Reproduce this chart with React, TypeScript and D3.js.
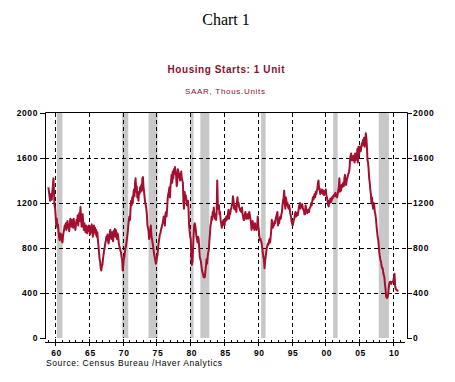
import React from "react";
import * as d3 from "d3";

const startYear = 1959;
// Monthly single-family housing starts, SAAR, thousands (Jan 1959 onward)
const starts: number[] = [
  1340, 1300, 1260, 1220, 1250, 1280, 1230, 1300, 1350, 1420, 1300, 1180,
  1150, 1080, 1000, 1060, 980, 1010, 950, 900, 870, 930, 880, 920,
  860, 850, 900, 940, 960, 1000, 980, 1020, 960, 1000, 1040, 980,
  1000, 950, 1010, 1060, 1020, 990, 1050, 1030, 980, 1060, 1010, 1000,
  960, 1010, 1050, 1020, 1090, 1000, 1060, 1110, 1040, 1165, 1080, 990,
  1050, 1100, 1000, 960, 1020, 980, 940, 1000, 960, 930, 990, 950,
  1000, 960, 920, 990, 940, 1010, 970, 900, 960, 1000, 940, 980,
  920, 960, 900, 940, 870, 820, 760, 700, 680, 620, 600, 640,
  650, 700, 740, 780, 800, 840, 860, 900, 880, 920, 860, 840,
  880, 930, 960, 900, 880, 940, 910, 860, 950, 920, 970, 900,
  960, 920, 880, 930, 900, 850, 820, 800, 780, 760, 720, 700,
  600, 640, 700, 720, 760, 800, 820, 860, 900, 940, 1000, 1050,
  1080, 1050, 1150, 1220, 1180, 1250, 1200, 1280, 1320, 1260, 1380, 1420,
  1300, 1350, 1250, 1280, 1220, 1300, 1280, 1340, 1300, 1360, 1310, 1420,
  1430, 1350, 1300, 1250, 1200, 1180, 1150, 1100, 1000, 980, 950, 880,
  900, 950, 1000, 920, 880, 850, 820, 780, 740, 720, 690, 660,
  680, 720, 740, 800, 850, 880, 920, 930, 960, 980, 1000, 1020,
  1050, 1080, 1040, 1000, 1100, 1120, 1080, 1150, 1240, 1280, 1300, 1340,
  1250, 1350, 1400, 1450, 1380, 1480, 1420, 1500, 1460, 1520, 1480, 1440,
  1350, 1380, 1500, 1480, 1430, 1460, 1400, 1440, 1480, 1420, 1400, 1380,
  1200, 1150, 1300, 1250, 1270, 1240, 1180, 1200, 1220, 1150, 1000, 950,
  900, 880, 720, 650, 680, 780, 900, 1000, 1020, 1000, 960, 900,
  880, 850, 900, 880, 800, 720, 700, 680, 640, 600, 580, 560,
  540, 560, 540, 600, 640, 700, 660, 720, 760, 780, 860, 920,
  1000, 1020, 1080, 1050, 1120, 1100, 1160, 1080, 1060, 1100, 1050, 1120,
  1400, 1200, 1150, 1180, 1100, 1120, 1050, 1020, 980, 1000, 1030, 1050,
  1020, 1000, 1060, 1040, 1080, 1050, 1080, 1100, 1140, 1060, 1120, 1100,
  1140, 1150, 1180, 1200, 1260, 1220, 1150, 1180, 1140, 1160, 1120, 1200,
  1250, 1180, 1200, 1160, 1150, 1130, 1150, 1120, 1160, 1100, 1080, 1050,
  1050, 1100, 1120, 1080, 1060, 1100, 1080, 1060, 1100, 1120, 1090, 1060,
  1020, 960, 1000, 1040, 980, 1000, 960, 1020, 990, 980, 960, 1000,
  1080, 1000, 960, 900, 870, 880, 860, 840, 800, 760, 720, 700,
  620, 680, 720, 760, 800, 820, 840, 830, 860, 880, 850, 900,
  960, 1050, 1000, 980, 1020, 1000, 1040, 1020, 1060, 1080, 1100, 1120,
  1000, 1040, 1020, 1060, 1080, 1060, 1100, 1120, 1180, 1220, 1250, 1310,
  1200, 1150, 1250, 1220, 1180, 1200, 1160, 1150, 1180, 1140, 1100, 1080,
  1040, 1020, 1000, 1020, 1050, 1060, 1100, 1120, 1080, 1110, 1100, 1090,
  1120, 1160, 1180, 1200, 1150, 1180, 1170, 1190, 1160, 1140, 1130, 1100,
  1100, 1180, 1150, 1120, 1110, 1130, 1140, 1120, 1150, 1160, 1170, 1200,
  1180, 1220, 1250, 1230, 1260, 1280, 1250, 1300, 1280, 1310, 1330, 1380,
  1400, 1320, 1330, 1280, 1300, 1290, 1320, 1300, 1280, 1310, 1270, 1300,
  1290, 1320, 1270, 1250, 1220, 1180, 1170, 1220, 1200, 1240, 1220, 1210,
  1250, 1240, 1260, 1270, 1260, 1280, 1290, 1260, 1270, 1250, 1280, 1310,
  1340, 1420, 1300, 1320, 1310, 1360, 1340, 1370, 1380, 1350, 1420, 1450,
  1380, 1360, 1400, 1420, 1440, 1460, 1470, 1500, 1580, 1620, 1640, 1580,
  1600, 1580, 1620, 1600, 1560, 1640, 1580, 1640, 1600, 1680, 1560, 1700,
  1620, 1700, 1680, 1660, 1700, 1730, 1710, 1760, 1720, 1780, 1700, 1740,
  1820, 1780, 1700, 1580, 1560, 1500, 1420, 1380, 1320, 1280, 1200, 1250,
  1180, 1150, 1200, 1180, 1120, 1100, 1060, 1000, 950, 900, 880, 820,
  760, 720, 690, 680, 640, 620, 620, 580, 560, 540, 480, 440,
  370, 360, 355, 370, 400, 460, 490, 500, 500, 480, 490, 500,
  500, 510, 540, 570, 470, 440, 430, 430, 420, 430,
];

const recessionStarts = [1960.25, 1969.92, 1973.83, 1980.0, 1981.5, 1990.5, 2001.17, 2007.92];
const recessionEnds = [1961.08, 1970.83, 1975.17, 1980.5, 1982.83, 1991.17, 2001.83, 2009.42];

const yTicks = [0, 400, 800, 1200, 1600, 2000];
const xMajorYears = [1960, 1965, 1970, 1975, 1980, 1985, 1990, 1995, 2000, 2005, 2010];
const xTickLabels = ["60", "65", "70", "75", "80", "85", "90", "95", "00", "05", "10"];
const xMinorYears = d3.range(1959, 2012);

const W = 455;
const H = 382;
const left = 45;
const right = 407;
const top = 113;
const bottom = 338;
const axisY = 342;

export default function App() {
  const x = d3.scaleLinear().domain([1958.5, 2012.1]).range([left, right]);
  const y = d3.scaleLinear().domain([0, 2000]).range([bottom, top]);
  const line = d3
    .line<number>()
    .x((_, i) => x(startYear + i / 12))
    .y((d) => y(d));

  const red = "#a3102f";
  const titleRed = "#8c0f2e";
  const font = "'Liberation Sans', Arial, sans-serif";

  return (
    <svg
      width={W}
      height={H}
      style={{ position: "absolute", left: 0, top: 0, background: "#fff" }}
    >
      <rect x={0} y={0} width={W} height={H} fill="#fff" />
      <text
        x={226}
        y={25}
        textAnchor="middle"
        fontFamily="'Liberation Serif', 'Times New Roman', serif"
        fontSize={16}
        fill="#000"
      >
        Chart 1
      </text>
      <text
        x={226}
        y={73}
        textAnchor="middle"
        fontFamily={font}
        fontWeight="bold"
        fontSize={10}
        fill={titleRed}
        textLength={117}
        lengthAdjust="spacing"
      >
        Housing Starts: 1 Unit
      </text>
      <text
        x={225}
        y={94}
        textAnchor="middle"
        fontFamily={font}
        fontSize={8}
        fill={titleRed}
        textLength={80}
        lengthAdjust="spacing"
      >
        SAAR, Thous.Units
      </text>

      {/* recession bands */}
      {recessionStarts.map((s, i) => (
        <rect
          key={"r" + i}
          x={x(s)}
          y={y(2000)}
          width={x(recessionEnds[i]) - x(s)}
          height={y(0) - y(2000)}
          fill="#c8c8c8"
        />
      ))}

      {/* grid */}
      {yTicks
        .filter((t) => t > 0 && t < 2000)
        .map((t) => (
          <line
            key={"gy" + t}
            x1={left}
            x2={right}
            y1={Math.round(y(t)) + 0.5}
            y2={Math.round(y(t)) + 0.5}
            stroke="#000"
            strokeWidth={1}
            strokeDasharray="4,3"
          />
        ))}
      {xMajorYears.map((yr) => (
        <line
          key={"gx" + yr}
          x1={Math.round(x(yr)) + 0.5}
          x2={Math.round(x(yr)) + 0.5}
          y1={top}
          y2={bottom}
          stroke="#000"
          strokeWidth={1}
          strokeDasharray="4,3"
        />
      ))}

      {/* series */}
      <path
        d={line(starts) || ""}
        fill="none"
        stroke={red}
        strokeWidth={2}
        strokeLinejoin="round"
      />

      {/* frame */}
      <path
        d={`M${left + 0.5},${bottom + 1}V${top - 0.5}H${right + 0.5}V${bottom + 1}`}
        fill="none"
        stroke="#000"
        strokeWidth={1}
      />

      {/* y ticks & labels */}
      {yTicks.map((t) => (
        <g key={"yt" + t}>
          <line x1={left - 5} x2={left} y1={Math.round(y(t)) + 0.5} y2={Math.round(y(t)) + 0.5} stroke="#000" />
          <line x1={right} x2={right + 5} y1={Math.round(y(t)) + 0.5} y2={Math.round(y(t)) + 0.5} stroke="#000" />
          <text
            x={38}
            y={y(t) + 3}
            textAnchor="end"
            fontFamily={font}
            fontWeight="bold"
            fontSize={8.5}
            letterSpacing={0.6}
            fill="#000"
          >
            {t}
          </text>
          <text
            x={413}
            y={y(t) + 3}
            textAnchor="start"
            fontFamily={font}
            fontWeight="bold"
            fontSize={8.5}
            letterSpacing={0.6}
            fill="#000"
          >
            {t}
          </text>
        </g>
      ))}

      {/* x axis */}
      <line x1={left} x2={right - 2} y1={axisY + 0.5} y2={axisY + 0.5} stroke="#000" />
      {xMinorYears.map((yr) => (
        <line
          key={"mn" + yr}
          x1={Math.round(x(yr)) + 0.5}
          x2={Math.round(x(yr)) + 0.5}
          y1={axisY - 2}
          y2={axisY + 1}
          stroke="#000"
        />
      ))}
      {xMajorYears.map((yr, i) => (
        <g key={"mj" + yr}>
          <line
            x1={Math.round(x(yr)) + 0.5}
            x2={Math.round(x(yr)) + 0.5}
            y1={axisY - 3}
            y2={axisY + 4}
            stroke="#000"
          />
          <text
            x={x(yr) + 1.5}
            y={356}
            textAnchor="middle"
            fontFamily={font}
            fontWeight="bold"
            fontSize={8.5}
            letterSpacing={0.6}
            fill="#000"
          >
            {xTickLabels[i]}
          </text>
        </g>
      ))}

      <text
        x={46}
        y={366}
        fontFamily={font}
        fontSize={8.5}
        fill="#000"
        textLength={176}
        lengthAdjust="spacing"
      >
        Source: Census Bureau /Haver Analytics
      </text>
    </svg>
  );
}
